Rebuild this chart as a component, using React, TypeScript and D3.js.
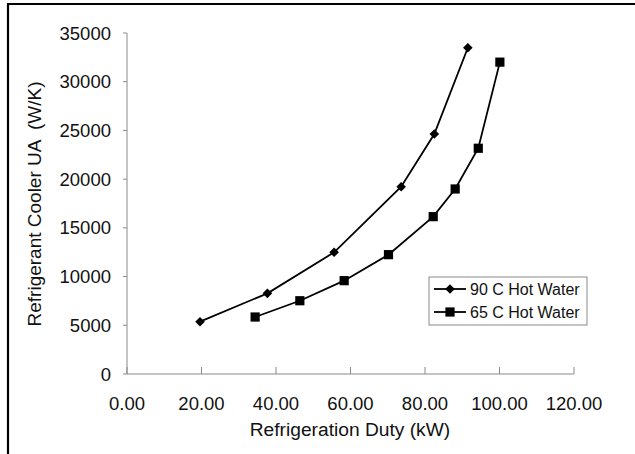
import React from "react";
import * as d3 from "d3";

const series90X = [19.6, 37.7, 55.6, 73.6, 82.5, 91.5];
const series90Y = [5370, 8280, 12490, 19220, 24630, 33490];
const series65X = [34.4, 46.4, 58.3, 70.2, 82.2, 88.1, 94.3, 100.1];
const series65Y = [5850, 7520, 9580, 12250, 16150, 18990, 23170, 32010];
const xTicks = [0, 20, 40, 60, 80, 100, 120];
const yTicks = [0, 5000, 10000, 15000, 20000, 25000, 30000, 35000];
const seriesNames = ["90 C Hot Water", "65 C Hot Water"];
const xTitle = "Refrigeration Duty (kW)";
const yTitle = "Refrigerant Cooler UA  (W/K)";

const W = 635;
const H = 454;
const FONT = "'Liberation Sans', Arial, Helvetica, sans-serif";

export default function App() {
  const x = d3.scaleLinear().domain([0, 120]).range([127, 574]);
  const y = d3.scaleLinear().domain([0, 35000]).range([374, 33]);
  const line = d3
    .line<[number, number]>()
    .x((d) => x(d[0]))
    .y((d) => y(d[1]));
  const d90: [number, number][] = series90X.map((v, i) => [v, series90Y[i]]);
  const d65: [number, number][] = series65X.map((v, i) => [v, series65Y[i]]);
  const fx = d3.format(".2f");
  const axisColor = "#8a8a8a";
  const diamond = (cx: number, cy: number, r: number) =>
    `M${cx},${cy - r}L${cx + r},${cy}L${cx},${cy + r}L${cx - r},${cy}Z`;

  const lx0 = 429;
  const ly0 = 277;
  const lw = 158;
  const lh = 48;

  return (
    <svg
      width={W}
      height={H}
      style={{ position: "absolute", left: 0, top: 0, background: "#fff" }}
      fontFamily={FONT}
    >
      <rect x={0} y={0} width={W} height={H} fill="#fff" />
      <path d={`M8,${H}V4H${W}`} fill="none" stroke="#000" strokeWidth={2.2} />

      {/* axes */}
      <line x1={x(0)} x2={x(0)} y1={y(35000)} y2={y(0)} stroke={axisColor} strokeWidth={1} />
      <line x1={x(0)} x2={x(120)} y1={y(0)} y2={y(0)} stroke={axisColor} strokeWidth={1} />
      {yTicks.map((t) => (
        <g key={"y" + t}>
          <line x1={x(0) - 4} x2={x(0)} y1={y(t)} y2={y(t)} stroke={axisColor} strokeWidth={1} />
          <text x={111} y={y(t) + 6.5} textAnchor="end" fontSize={18.5} fill="#111">
            {t}
          </text>
        </g>
      ))}
      {xTicks.map((t) => (
        <g key={"x" + t}>
          <line x1={x(t)} x2={x(t)} y1={y(0) - 7} y2={y(0)} stroke={axisColor} strokeWidth={1} />
          <text x={x(t)} y={409.5} textAnchor="middle" fontSize={18.5} fill="#111">
            {fx(t)}
          </text>
        </g>
      ))}
      <text x={350} y={436} textAnchor="middle" fontSize={19.2} fill="#111">
        {xTitle}
      </text>
      <text
        transform={`translate(40.5,204) rotate(-90)`}
        textAnchor="middle"
        fontSize={19}
        fill="#111"
        style={{ whiteSpace: "pre" }}
      >
        {yTitle}
      </text>

      {/* series */}
      <path d={line(d90) || ""} fill="none" stroke="#000" strokeWidth={1.8} />
      <path d={line(d65) || ""} fill="none" stroke="#000" strokeWidth={1.8} />
      {d90.map((p, i) => (
        <path key={"d" + i} d={diamond(x(p[0]), y(p[1]), 4.8)} fill="#000" />
      ))}
      {d65.map((p, i) => (
        <rect key={"s" + i} x={x(p[0]) - 4.6} y={y(p[1]) - 4.6} width={9.2} height={9.2} fill="#000" />
      ))}

      {/* legend */}
      <rect x={lx0} y={ly0} width={lw} height={lh} fill="#fff" stroke={axisColor} strokeWidth={1} />
      {seriesNames.map((name, i) => {
        const cy = ly0 + 12 + i * 23;
        return (
          <g key={name}>
            <line x1={434} x2={466} y1={cy} y2={cy} stroke="#000" strokeWidth={1.8} />
            {i === 0 ? (
              <path d={diamond(450, cy, 4.8)} fill="#000" />
            ) : (
              <rect x={450 - 4.6} y={cy - 4.6} width={9.2} height={9.2} fill="#000" />
            )}
            <text x={470} y={cy + 5.8} fontSize={16} fill="#111">
              {name}
            </text>
          </g>
        );
      })}
    </svg>
  );
}
